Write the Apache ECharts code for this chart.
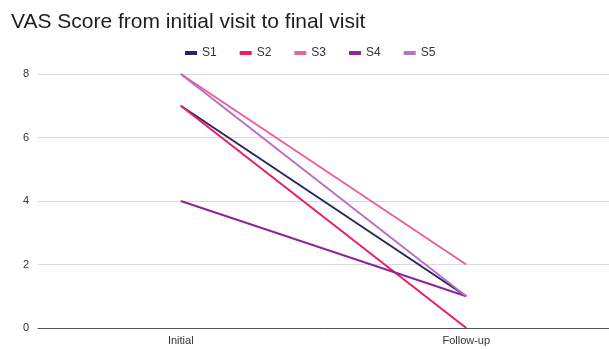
<!DOCTYPE html>
<html>
<head>
<meta charset="utf-8">
<script src="https://cdn.jsdelivr.net/npm/echarts@6/dist/echarts.min.js"></script>
<style>
  html, body { margin: 0; padding: 0; background: #fff; }
  #chart { width: 609px; height: 349px; }
</style>
</head>
<body>
<div id="chart"></div>
<script>
// data
var visits = ['Initial', 'Follow-up'];
var s1 = [7, 1];
var s2 = [7, 0];
var s3 = [8, 2];
var s4 = [4, 1];
var s5 = [8, 1];
var yTicks = [0, 2, 4, 6, 8];

var seriesNames = ['S1', 'S2', 'S3', 'S4', 'S5'];
var seriesData = [s1, s2, s3, s4, s5];
var colors = ['#27275f', '#e91e63', '#ef5f9c', '#8e2599', '#b86fc5'];

var chart = echarts.init(document.getElementById('chart'));

var series = [];
for (var i = 0; i < seriesNames.length; i++) {
    series.push({
        name: seriesNames[i],
        type: 'line',
        data: seriesData[i],
        symbol: 'none',
        lineStyle: { width: 2, color: colors[i] },
        itemStyle: { color: colors[i] }
    });
}

chart.setOption({
    animation: false,
    title: {
        text: 'VAS Score from initial visit to final visit',
        left: 6,
        top: 7,
        textStyle: { fontFamily: 'Liberation Sans', fontSize: 21, fontWeight: 'normal', color: '#1e1e1e' }
    },
    legend: {
        data: seriesNames,
        top: 42,
        left: 180,
        itemWidth: 12,
        itemHeight: 4,
        itemGap: 23,
        icon: 'rect',
        textStyle: { fontFamily: 'Liberation Sans', fontSize: 12, color: '#333' }
    },
    grid: { left: 38, right: 0, top: 74, bottom: 21, containLabel: false },
    xAxis: {
        type: 'category',
        data: visits,
        boundaryGap: true,
        axisTick: { show: false },
        axisLine: { lineStyle: { color: '#555' } },
        axisLabel: { fontFamily: 'Liberation Sans', fontSize: 11, color: '#333', margin: 7 }
    },
    yAxis: {
        type: 'value',
        min: yTicks[0],
        max: yTicks[yTicks.length - 1],
        interval: 2,
        axisLine: { show: false },
        axisTick: { show: false },
        axisLabel: { fontFamily: 'Liberation Sans', fontSize: 11, color: '#333', margin: 9 },
        splitLine: { lineStyle: { color: '#d9d9d9' } }
    },
    series: series
});
</script>
</body>
</html>
